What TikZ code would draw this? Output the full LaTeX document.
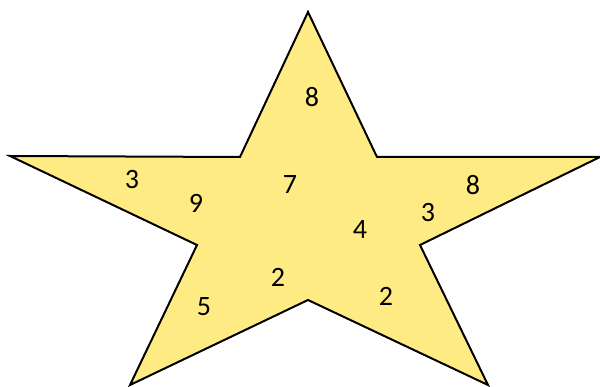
\documentclass[tikz,border=0pt]{standalone}
\usepackage{fontspec}
\setmainfont{Carlito}
\begin{document}
\begin{tikzpicture}[x=1pt,y=-1pt,
  num/.style={font=\fontsize{28}{28}\selectfont, inner sep=0pt}]
\useasboundingbox (0,0) rectangle (600,387);
\draw[line width=2pt, fill={rgb,255:red,255;green,235;blue,132}, line join=miter]
  (308,12) -- (377,157) -- (600,157) -- (420,245) -- (488,385) -- (308,300)
  -- (130,385) -- (197,245) -- (10,156) -- (240,157) -- cycle;
\node[num] (n1) at (312,97) {8};
\node[num] (n2) at (132,180) {3};
\node[num] (n3) at (196,203) {9};
\node[num] (n4) at (290,185) {7};
\node[num] (n5) at (473,185) {8};
\node[num] (n6) at (428,213) {3};
\node[num] (n7) at (360,230) {4};
\node[num] (n8) at (278,277) {2};
\node[num] (n9) at (386,296) {2};
\node[num] (n10) at (204,307) {5};
\end{tikzpicture}
\end{document}
